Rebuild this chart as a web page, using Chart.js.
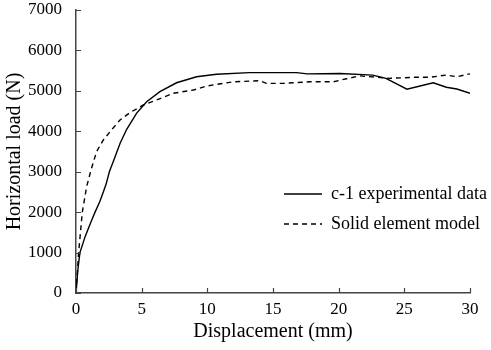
<!DOCTYPE html>
<html lang="en">
<head>
    <meta charset="UTF-8">
    <title>Horizontal load vs displacement</title>
    <script src="https://cdn.jsdelivr.net/npm/chart.js"></script>
    <style>
        body { margin: 0; background: #fff; }
        #wrap { width: 491px; height: 350px; }
    </style>
</head>
<body>
    <div id="wrap"><canvas id="loadChart"></canvas></div>

    <script>
        // c-1 experimental data (displacement mm, load N)
        const expDisp = [0, 0.15, 0.3, 0.7, 1.07, 1.45, 1.8, 2.08, 2.3, 2.54, 2.84, 3.35, 3.86, 4.62, 5.38, 6.39, 7.66, 9.18, 10.7, 13.2, 16.8, 17.6, 20.1, 22.6, 23.6, 25.2, 27.2, 28.2, 29.0, 30];
        const expLoad = [0, 600, 1000, 1400, 1700, 2000, 2250, 2500, 2700, 3000, 3250, 3700, 4050, 4450, 4730, 4980, 5200, 5350, 5410, 5450, 5450, 5420, 5430, 5390, 5310, 5040, 5200, 5090, 5045, 4940];

        // solid element model
        const modelDisp = [0, 0.2, 0.48, 0.81, 1.15, 1.57, 2.08, 2.59, 3.35, 4.1, 5.12, 6.14, 7.4, 8.93, 9.95, 12, 14, 14.5, 15.8, 17.8, 19.6, 20.6, 21.6, 23.9, 25.7, 26.9, 28.2, 29, 30];
        const modelLoad = [0, 1000, 2000, 2630, 3050, 3500, 3785, 3990, 4280, 4460, 4650, 4775, 4940, 5020, 5120, 5225, 5250, 5185, 5185, 5225, 5225, 5300, 5370, 5310, 5335, 5335, 5390, 5350, 5420];

        const seriesNames = ['c-1 experimental data', 'Solid element model'];
        const xTicks = [0, 5, 10, 15, 20, 25, 30];
        const yTicks = [0, 1000, 2000, 3000, 4000, 5000, 6000, 7000];

        const serif = 'Liberation Serif, Times New Roman, serif';
        const axisColor = '#444';

        const toPoints = (xs, ys) => xs.map((x, i) => ({ x: x, y: ys[i] }));

        // inward tick marks, like the original figure
        const innerTicks = {
            id: 'innerTicks',
            afterDraw(chart) {
                const ctx = chart.ctx;
                const xs = chart.scales.x, ys = chart.scales.y;
                ctx.save();
                ctx.strokeStyle = axisColor;
                ctx.lineWidth = 1.2;
                ctx.beginPath();
                xTicks.forEach(v => {
                    const px = Math.round(xs.getPixelForValue(v)) + 0.5;
                    ctx.moveTo(px, ys.bottom);
                    ctx.lineTo(px, ys.bottom - 5);
                });
                yTicks.forEach(v => {
                    const py = Math.round(ys.getPixelForValue(v)) + 0.5;
                    ctx.moveTo(xs.left, py);
                    ctx.lineTo(xs.left + 5, py);
                });
                ctx.stroke();
                ctx.restore();
            }
        };

        // legend drawn inside the plot area, lower right
        const innerLegend = {
            id: 'innerLegend',
            afterDraw(chart) {
                const ctx = chart.ctx;
                const area = chart.chartArea;
                const x0 = area.right - 186;
                const rows = [area.top + 184, area.top + 214];
                ctx.save();
                ctx.font = '18px ' + serif;
                ctx.textBaseline = 'middle';
                ctx.fillStyle = '#000';
                chart.data.datasets.forEach((ds, i) => {
                    ctx.strokeStyle = '#000';
                    ctx.lineWidth = 1.3;
                    ctx.setLineDash(ds.borderDash || []);
                    ctx.beginPath();
                    ctx.moveTo(x0, rows[i]);
                    ctx.lineTo(x0 + 38, rows[i]);
                    ctx.stroke();
                    ctx.setLineDash([]);
                    ctx.fillText(ds.label, x0 + 47, rows[i]);
                });
                ctx.restore();
            }
        };

        new Chart(document.getElementById('loadChart'), {
            type: 'scatter',
            data: {
                datasets: [{
                    label: seriesNames[0],
                    data: toPoints(expDisp, expLoad),
                    showLine: true,
                    borderColor: '#000',
                    borderWidth: 1.4,
                    pointRadius: 0,
                    tension: 0
                }, {
                    label: seriesNames[1],
                    data: toPoints(modelDisp, modelLoad),
                    showLine: true,
                    borderColor: '#000',
                    borderWidth: 1.4,
                    borderDash: [5, 4],
                    pointRadius: 0,
                    tension: 0
                }]
            },
            options: {
                responsive: true,
                maintainAspectRatio: false,
                animation: false,
                layout: { padding: { top: 10, right: 21, left: 0, bottom: 0 } },
                plugins: {
                    legend: { display: false },
                    tooltip: { enabled: false }
                },
                scales: {
                    x: {
                        type: 'linear',
                        min: 0,
                        max: 30,
                        afterFit: scale => {
                            scale.height = 57;
                            scale.paddingLeft = 0;
                            scale.paddingRight = 0;
                        },
                        afterBuildTicks: scale => { scale.ticks = xTicks.map(v => ({ value: v })); },
                        grid: { display: false, drawTicks: false },
                        border: { display: true, color: axisColor, width: 1.5 },
                        ticks: { color: '#000', padding: 6, font: { family: serif, size: 17 }, callback: v => String(v) },
                        title: {
                            display: true,
                            text: 'Displacement (mm)',
                            color: '#000',
                            padding: { bottom: 6 },
                            font: { family: serif, size: 20 }
                        }
                    },
                    y: {
                        type: 'linear',
                        min: 0,
                        max: 7000,
                        afterFit: scale => {
                            scale.width = 76;
                            scale.paddingTop = 0;
                            scale.paddingBottom = 0;
                        },
                        afterBuildTicks: scale => { scale.ticks = yTicks.map(v => ({ value: v })); },
                        grid: { display: false, drawTicks: false },
                        border: { display: true, color: axisColor, width: 1.5 },
                        ticks: { color: '#000', padding: 14, font: { family: serif, size: 17 }, callback: v => String(v) },
                        title: {
                            display: true,
                            text: 'Horizontal load (N)',
                            color: '#000',
                            padding: { top: 3 },
                            font: { family: serif, size: 20 }
                        }
                    }
                }
            },
            plugins: [innerTicks, innerLegend]
        });
    </script>
</body>
</html>
